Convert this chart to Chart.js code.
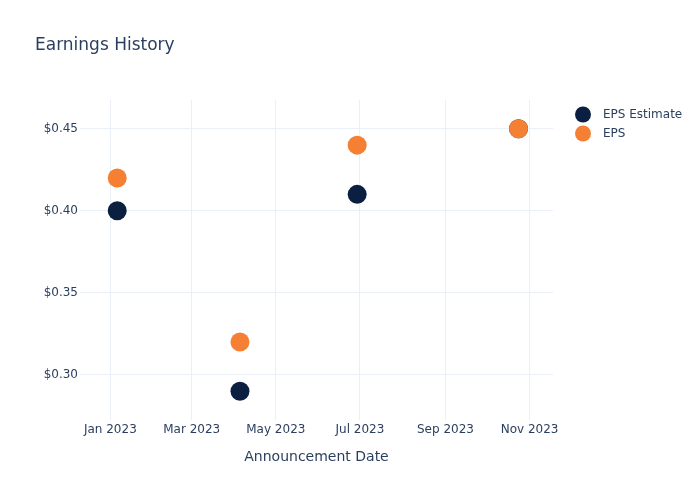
<!DOCTYPE html>
<html>
<head>
<meta charset="utf-8">
<script src="https://cdn.jsdelivr.net/npm/chart.js@4.4.0/dist/chart.umd.min.js"></script>
<style>
  html, body { margin: 0; padding: 0; background: #fff; }
  #wrap { position: relative; width: 700px; height: 500px; }
</style>
</head>
<body>
<div id="wrap"><canvas id="c" width="700" height="500"></canvas></div>
<script>
// ---- data ----
const announcementDates = ['2023-01-06', '2023-04-05', '2023-06-29', '2023-10-24'];
const epsEstimate = [0.40, 0.29, 0.41, 0.45];
const epsActual = [0.42, 0.32, 0.44, 0.45];
const xTickDates = ['2023-01-01', '2023-03-01', '2023-05-01', '2023-07-01', '2023-09-01', '2023-11-01'];
const xTickLabels = ['Jan 2023', 'Mar 2023', 'May 2023', 'Jul 2023', 'Sep 2023', 'Nov 2023'];
const yTickValues = [0.30, 0.35, 0.40, 0.45];
const seriesNames = ['EPS Estimate', 'EPS'];
const seriesColors = ['#0b1f41', '#f58034'];
const chartTitle = 'Earnings History';
const xAxisTitle = 'Announcement Date';

const toTs = s => { const [y, m, d] = s.split('-').map(Number); return Date.UTC(y, m - 1, d); };
const FONT = "'DejaVu Sans', Verdana, sans-serif";
const TEXT = '#2a3f5f';
const GRID = '#ebf0f8';

const overlay = {
  id: 'overlay',
  afterDraw(chart) {
    const ctx = chart.ctx;
    ctx.save();
    ctx.fillStyle = TEXT;
    ctx.font = '17px ' + FONT;
    ctx.textBaseline = 'alphabetic';
    ctx.textAlign = 'left';
    ctx.fillText(chartTitle, 35, 50);
    ctx.font = '12px ' + FONT;
    ctx.textBaseline = 'middle';
    seriesNames.forEach((name, i) => {
      const cy = 114.5 + i * 19;
      ctx.beginPath();
      ctx.arc(583, cy, 8, 0, Math.PI * 2);
      ctx.fillStyle = seriesColors[i];
      ctx.fill();
      ctx.fillStyle = TEXT;
      ctx.fillText(name, 603, cy + 0.5);
    });
    ctx.restore();
  }
};

new Chart(document.getElementById('c'), {
  type: 'scatter',
  data: {
    datasets: [
      {
        label: seriesNames[0],
        data: announcementDates.map((d, i) => ({ x: toTs(d), y: epsEstimate[i] })),
        backgroundColor: seriesColors[0],
        borderColor: seriesColors[0],
        pointRadius: 9.5, pointHoverRadius: 9.5, borderWidth: 0,
        order: 2
      },
      {
        label: seriesNames[1],
        data: announcementDates.map((d, i) => ({ x: toTs(d), y: epsActual[i] })),
        backgroundColor: seriesColors[1],
        borderColor: seriesColors[1],
        pointRadius: 9.5, pointHoverRadius: 9.5, borderWidth: 0,
        order: 1
      }
    ]
  },
  options: {
    responsive: false,
    animation: false,
    layout: { padding: { left: 0, right: 147, top: 100, bottom: 0 } },
    plugins: { legend: { display: false }, tooltip: { enabled: false }, title: { display: false } },
    scales: {
      x: {
        type: 'linear',
        min: toTs('2022-12-10'),
        max: toTs('2023-11-18'),
        afterFit(s) { s.height = 80; },
        afterBuildTicks(s) { s.ticks = xTickDates.map(d => ({ value: toTs(d) })); },
        grid: { color: GRID, drawTicks: false, lineWidth: 1 },
        border: { display: false },
        ticks: {
          padding: 3,
          color: TEXT,
          font: { family: FONT, size: 12 },
          maxRotation: 0,
          autoSkip: false,
          callback(v) { const i = xTickDates.findIndex(d => toTs(d) === v); return i >= 0 ? xTickLabels[i] : ''; }
        },
        title: {
          display: true, text: xAxisTitle, color: TEXT,
          font: { family: FONT, size: 14 },
          padding: { top: 0, bottom: 34 }
        }
      },
      y: {
        min: 0.2725,
        max: 0.4675,
        afterFit(s) { s.width = 80; },
        afterBuildTicks(s) { s.ticks = yTickValues.map(v => ({ value: v })); },
        grid: { color: GRID, drawTicks: false, lineWidth: 1 },
        border: { display: false },
        ticks: {
          padding: 2,
          color: TEXT,
          font: { family: FONT, size: 12 },
          callback(v) { return '$' + v.toFixed(2); }
        }
      }
    }
  },
  plugins: [overlay]
});
</script>
</body>
</html>
